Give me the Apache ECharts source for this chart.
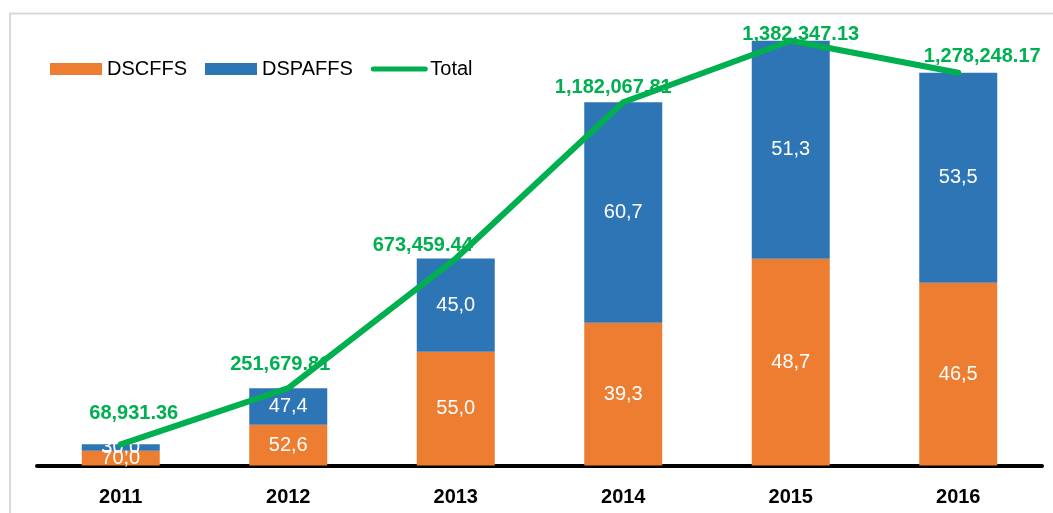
<!DOCTYPE html>
<html>
<head>
<meta charset="utf-8">
<script src="https://cdn.jsdelivr.net/npm/echarts@6/dist/echarts.min.js"></script>
<style>
  html, body { margin: 0; padding: 0; background: #ffffff; }
  #chart { width: 1053px; height: 513px; }
</style>
</head>
<body>
<div id="chart"></div>
<script>
// Years on the category axis
const years = ['2011', '2012', '2013', '2014', '2015', '2016'];
// Total amount per year
const totals = [68931.36, 251679.81, 673459.44, 1182067.81, 1382347.13, 1278248.17];
// Share of each component in the yearly total (%)
const dscffsPct = [70.0, 52.6, 55.0, 39.3, 48.7, 46.5];
const dspaffsPct = [30.0, 47.4, 45.0, 60.7, 51.3, 53.5];

const FONT = "'Liberation Sans Narrow', 'Arial Narrow', 'Liberation Sans', Arial, sans-serif";
const ORANGE = '#ED7D31';
const BLUE = '#2E75B6';
const GREEN = '#00B050';

// Hand-placed nudges for the total labels, [dx, dy] in pixels
const totalLabelNudges = [[13, -20], [-8, -13], [-33, -3], [-10, -4], [10, 4], [24, -6]];

const pctText = v => v.toFixed(1).replace('.', ',');
const totalText = v => v.toLocaleString('en-US', { minimumFractionDigits: 2, maximumFractionDigits: 2 });

// Each stacked segment is its share of the yearly total
const dscffsValues = totals.map((t, i) => t * dscffsPct[i] / 100);
const dspaffsValues = totals.map((t, i) => t * dspaffsPct[i] / 100);

const segLabel = pcts => ({
  show: true,
  position: 'inside',
  color: '#ffffff',
  fontFamily: FONT,
  fontSize: 20,
  formatter: p => pctText(pcts[p.dataIndex])
});

const chart = echarts.init(document.getElementById('chart'), null, { renderer: 'canvas' });

chart.setOption({
  animation: false,
  backgroundColor: '#ffffff',
  textStyle: { fontFamily: FONT },
  graphic: [{
    type: 'rect',
    silent: true,
    z: -10,
    shape: { x: 10, y: 13.5, width: 1200, height: 700 },
    style: { fill: 'none', stroke: '#d9d9d9', lineWidth: 2 }
  }],
  legend: {
    left: 45,
    top: 54,
    itemWidth: 52,
    itemHeight: 12,
    itemGap: 18,
    textStyle: { fontFamily: FONT, fontSize: 20, color: '#000000' },
    data: [
      { name: 'DSCFFS', icon: 'rect' },
      { name: 'DSPAFFS', icon: 'rect' },
      { name: 'Total', itemStyle: { opacity: 0 }, lineStyle: { width: 5, cap: 'round' } }
    ]
  },
  grid: { left: 37, right: 11, top: 35.3, bottom: 47.5 },
  xAxis: {
    type: 'category',
    data: years,
    offset: 2,
    axisLine: { show: true, lineStyle: { color: '#000000', width: 4 } },
    axisTick: { show: false },
    axisLabel: {
      color: '#000000',
      fontFamily: FONT,
      fontWeight: 'bold',
      fontSize: 20,
      margin: 20
    }
  },
  yAxis: {
    type: 'value',
    min: 0,
    max: 1400000,
    show: false,
    splitLine: { show: false }
  },
  series: [
    {
      name: 'DSCFFS',
      type: 'bar',
      stack: 'total',
      barWidth: 78,
      itemStyle: { color: ORANGE },
      label: segLabel(dscffsPct),
      data: dscffsValues
    },
    {
      name: 'DSPAFFS',
      type: 'bar',
      stack: 'total',
      barWidth: 78,
      itemStyle: { color: BLUE },
      label: segLabel(dspaffsPct),
      data: dspaffsValues
    },
    {
      name: 'Total',
      type: 'line',
      z: 5,
      symbol: 'circle',
      symbolSize: 1,
      showSymbol: true,
      lineStyle: { color: GREEN, width: 6, cap: 'round', join: 'round' },
      itemStyle: { color: GREEN, opacity: 0 },
      data: totals,
      label: {
        show: true,
        position: 'top',
        distance: 0,
        color: GREEN,
        opacity: 1,
        fontFamily: FONT,
        fontWeight: 'bold',
        fontSize: 20,
        formatter: p => totalText(totals[p.dataIndex])
      },
      labelLayout: p => ({
        dx: totalLabelNudges[p.dataIndex][0],
        dy: totalLabelNudges[p.dataIndex][1],
        hideOverlap: false
      })
    }
  ]
});
</script>
</body>
</html>
